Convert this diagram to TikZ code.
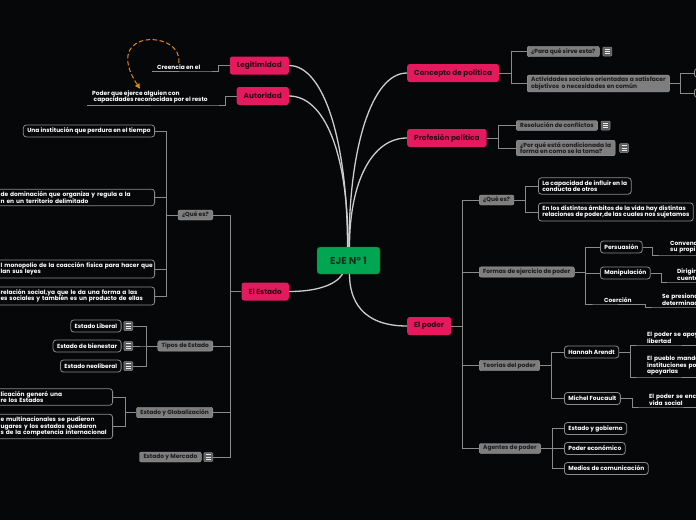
\documentclass[tikz,border=0pt]{standalone}
\usepackage{fontspec}
\setmainfont{Poppins}
\definecolor{canvasbg}{HTML}{060709}
\definecolor{topicpink}{HTML}{E5195E}
\definecolor{topictext}{HTML}{2A0812}
\definecolor{rootgreen}{HTML}{00A651}
\definecolor{roottext}{HTML}{17301F}
\definecolor{subgray}{HTML}{7E7E7E}
\definecolor{subtext}{HTML}{1C1C1C}
\definecolor{leafline}{HTML}{8A8A8A}
\definecolor{mainline}{HTML}{CDCDCD}
\definecolor{iconfill}{HTML}{5E5E5E}
\definecolor{linkorange}{HTML}{E0891A}
\usepackage{tikz}
\usetikzlibrary{arrows.meta, positioning, calc}

\begin{document}
\begin{tikzpicture}[
    x=1pt, y=-1pt,
    root/.style={rectangle, rounded corners=3pt, fill=rootgreen, draw=rootgreen!60!black, text=roottext, font=\fontsize{10}{12}\selectfont\bfseries, minimum width=63pt, minimum height=27pt},
    topic/.style={rectangle, rounded corners=2.5pt, fill=topicpink, text=topictext, font=\fontsize{7.3}{8.5}\selectfont\bfseries, minimum height=18pt, inner xsep=7pt},
    sub/.style={rectangle, rounded corners=2pt, fill=subgray, draw=subgray!75!white, text=subtext, font=\fontsize{5.9}{6.6}\selectfont\bfseries, align=left, minimum height=10pt, inner xsep=4pt, inner ysep=2pt},
    detail/.style={rectangle, rounded corners=3pt, fill=canvasbg, draw=leafline, line width=0.8pt, text=white, font=\fontsize{5.9}{6.6}\selectfont\bfseries, align=left, minimum height=12pt, inner xsep=4pt, inner ysep=2.5pt},
    leaf/.style={text=white, font=\fontsize{5.9}{6.6}\selectfont\bfseries, align=left, inner xsep=5pt, inner ysep=1.5pt},
    noteicon/.style={rectangle, rounded corners=1pt, fill=iconfill, draw=leafline, line width=0.5pt, minimum width=9pt, minimum height=9pt, inner sep=0pt,
        path picture={\foreach \dy in {-2.2,0,2.2} \draw[white!85!gray, line width=0.7pt] ($(path picture bounding box.center)+(-2.6,\dy)$) -- ++(5.2,0);}},
    mainlink/.style={draw=mainline, line width=1.3pt},
    branch/.style={draw=leafline, line width=0.9pt},
    relink/.style={draw=linkorange, line width=1pt, dash pattern=on 4.5pt off 2.5pt, -{Triangle[length=5pt, width=5pt]}},
]
\useasboundingbox (0,0) rectangle (696,520);
\clip (0,0) rectangle (696,520);
\fill[canvasbg] (0,0) rectangle (696,520);

\node[root] (eje) at (348.5,260.5) {EJE Nº 1};
\node[topic, anchor=east] (legit) at (289,65.5) {Legitimidad};
\node[topic, anchor=east] (autor) at (289,96) {Autoridad};
\node[topic, anchor=east] (estado) at (289,291.5) {El Estado};
\node[topic, anchor=west] (concepto) at (407,73) {Concepto de política};
\node[topic, anchor=west] (profesion) at (407,138) {Profesión política};
\node[topic, anchor=west] (poder) at (407,326) {El poder};

\draw[mainlink] ([xshift=-1pt]eje.north) .. controls +(0,-105) and +(35,0) .. (legit.east);
\draw[mainlink] ([xshift=-0.5pt]eje.north) .. controls +(0,-95) and +(35,0) .. (autor.east);
\draw[mainlink] ([xshift=0.5pt]eje.north) .. controls +(0,-100) and +(-35,0) .. (concepto.west);
\draw[mainlink] ([xshift=1pt]eje.north) .. controls +(0,-65) and +(-35,0) .. (profesion.west);
\draw[mainlink] ([xshift=-6pt]eje.south) .. controls +(-8,12) and +(25,0) .. (estado.east);
\draw[mainlink] ([xshift=1pt]eje.south) .. controls +(0,26) and +(-45,0) .. (poder.west);

\node[leaf, anchor=south west] (creencia) at (152,71) {Creencia en el};
\node[leaf, anchor=south west] (ejerce) at (87,105) {Poder que ejerce alguien con\\\hspace*{1.5pt}capacidades reconocidas por el resto};
\draw[branch] (legit.west) -- ++(-11,0) |- (creencia.south east) -- (creencia.south west);
\draw[branch] (autor.west) -- ++(-11,0) |- (ejerce.south east) -- (ejerce.south west);
\draw[relink] (creencia.north) .. controls +(5,-33) and +(-40,-61) .. ([xshift=-10pt]ejerce.north);

\node[sub, anchor=east] (estqe) at (213,215) {¿Qué es?};
\node[sub, anchor=east] (tipos) at (213,346) {Tipos de Estado};
\node[sub, anchor=east] (glob) at (213,412.5) {Estado y Globalización};
\node[noteicon, anchor=east] (mercnote) at (213,457) {};
\node[sub, left=2pt of mercnote] (merc) {Estado y Mercado};
\foreach \k in {estqe, tipos, glob, mercnote}
    \draw[branch] (estado.west) -- ++(-11,0) |- (\k.east);

\node[detail, anchor=east] (inst) at (155,131) {Una institución que perdura en el tiempo};
\node[detail, anchor=east, text width=150pt] (dom) at (155,197.5) {\mbox{de dominación que organiza y regula a la}\\\mbox{n en un territorio delimitado}};
\node[detail, anchor=east, text width=150pt] (mono) at (155,269) {\mbox{l monopolio de la coacción física para hacer que}\\\mbox{lan sus leyes}};
\node[detail, anchor=east, text width=150pt] (rel) at (155,296) {\mbox{relación social,ya que le da una forma a las}\\\mbox{es sociales y también es un producto de ellas}};
\foreach \k in {inst, dom, mono, rel}
    \draw[branch] (estqe.west) -- ++(-11,0) |- (\k.east);

\node[noteicon, anchor=east] (libnote) at (133,326) {};
\node[detail, left=2pt of libnote] (lib) {Estado Liberal};
\node[noteicon, anchor=east] (biennote) at (133,346) {};
\node[detail, left=2pt of biennote] (bien) {Estado de bienestar};
\node[noteicon, anchor=east] (neonote) at (133,366) {};
\node[detail, left=2pt of neonote] (neo) {Estado neoliberal};
\foreach \k in {libnote, biennote, neonote}
    \draw[branch] (tipos.west) -- ++(-11,0) |- (\k.east);

\node[detail, anchor=east, text width=108pt] (gen) at (113,397) {\mbox{licación generó una}\\\mbox{re los Estados}};
\node[detail, anchor=east, text width=108pt] (multi) at (113,426.5) {\mbox{e multinacionales se pudieron}\\\mbox{ugares y los estados quedaron}\\\mbox{s de la competencia internacional}};
\foreach \k in {gen, multi}
    \draw[branch] (glob.west) -- ++(-11,0) |- (\k.east);

\node[sub, anchor=west] (para) at (527,51.5) {¿Para qué sirve esta?};
\node[noteicon, right=3pt of para] (paranote) {};
\node[sub, anchor=west] (activ) at (527,83.5) {Actividades sociales orientadas a satisfacer\\objetivos\ \ o necesidades en común};
\node[detail, anchor=west, minimum width=20pt, minimum height=9pt] (activa) at (694,73) {};
\node[detail, anchor=west, minimum width=20pt, minimum height=9pt] (activb) at (694,93) {};
\foreach \k in {para, activ}
    \draw[branch] (concepto.east) -- ++(12,0) |- (\k.west);
\foreach \k in {activa, activb}
    \draw[branch] (activ.east) -- ++(11,0) |- (\k.west);

\node[sub, anchor=west] (resol) at (516,125.5) {Resolución de conflictos};
\node[noteicon, right=3pt of resol] (resolnote) {};
\node[sub, anchor=west] (porque) at (516,148) {¿Por qué está condicionada la\\forma en como se la toma?};
\node[noteicon, right=4pt of porque] (porquenote) {};
\foreach \k in {resol, porque}
    \draw[branch] (profesion.east) -- ++(12,0) |- (\k.west);

\node[sub, anchor=west] (podqe) at (479,200) {¿Qué es?};
\node[sub, anchor=west] (formas) at (479,272) {Formas de ejercicio de poder};
\node[sub, anchor=west] (teorias) at (479,365.5) {Teorías del poder};
\node[sub, anchor=west] (agentes) at (479,448.5) {Agentes de poder};
\foreach \k in {podqe, formas, teorias, agentes}
    \draw[branch] (poder.east) -- ++(11,0) |- (\k.west);

\node[detail, anchor=west] (influir) at (538,186) {La capacidad de influir en la\\conducta de otros};
\node[detail, anchor=west] (ambitos) at (538,212) {En los distintos ámbitos de la vida hay distintas\\relaciones de poder,de las cuales nos sujetamos};
\foreach \k in {influir, ambitos}
    \draw[branch] (podqe.east) -- ++(11,0) |- (\k.west);

\node[detail, anchor=west] (pers) at (600,247) {Persuasión};
\node[detail, anchor=west] (manip) at (600,273) {Manipulación};
\node[leaf, anchor=south west] (coer) at (599,304) {Coerción};
\foreach \k in {pers, manip}
    \draw[branch] (formas.east) -- ++(11,0) |- (\k.west);
\draw[branch] (formas.east) -- ++(11,0) |- (coer.south west) -- (coer.south east);

\node[leaf, anchor=south west, text width=70pt] (convenc) at (665,255) {Convenc\\su propi};
\node[leaf, anchor=south west, text width=70pt] (dirigir) at (672,282) {Dirigir\\cuenta};
\node[leaf, anchor=south west, text width=70pt] (presiona) at (657,307) {Se presiona\\determinac};
\draw[branch] (pers.east) -- ++(10,0) |- (convenc.south west) -- (convenc.south east);
\draw[branch] (manip.east) -- ++(11,0) |- (dirigir.south west) -- (dirigir.south east);
\draw[branch] (coer.south east) -- ++(9,0) |- (presiona.south west) -- (presiona.south east);

\node[detail, anchor=west] (arendt) at (564,352) {Hannah Arendt};
\node[detail, anchor=west] (foucault) at (564,398.5) {Michel Foucault};
\foreach \k in {arendt, foucault}
    \draw[branch] (teorias.east) -- ++(12,0) |- (\k.west);
\node[leaf, anchor=south west, text width=70pt] (apoya) at (642,345) {El poder se apoy\\libertad};
\node[leaf, anchor=south west, text width=70pt] (pueblo) at (642,377) {El pueblo manda\\instituciones po\\apoyarlas};
\node[leaf, anchor=south west, text width=70pt] (encuentra) at (644,407) {El poder se enc\\vida social};
\foreach \k in {apoya, pueblo}
    \draw[branch] (arendt.east) -- ++(11,0) |- (\k.south west) -- (\k.south east);
\draw[branch] (foucault.east) -- ++(12,0) |- (encuentra.south west) -- (encuentra.south east);

\node[detail, anchor=west] (gobierno) at (564,428.5) {Estado y gobierno};
\node[detail, anchor=west] (economico) at (564,448.5) {Poder económico};
\node[detail, anchor=west] (medios) at (564,468.5) {Medios de comunicación};
\foreach \k in {gobierno, economico, medios}
    \draw[branch] (agentes.east) -- ++(12,0) |- (\k.west);
\end{tikzpicture}
\end{document}
